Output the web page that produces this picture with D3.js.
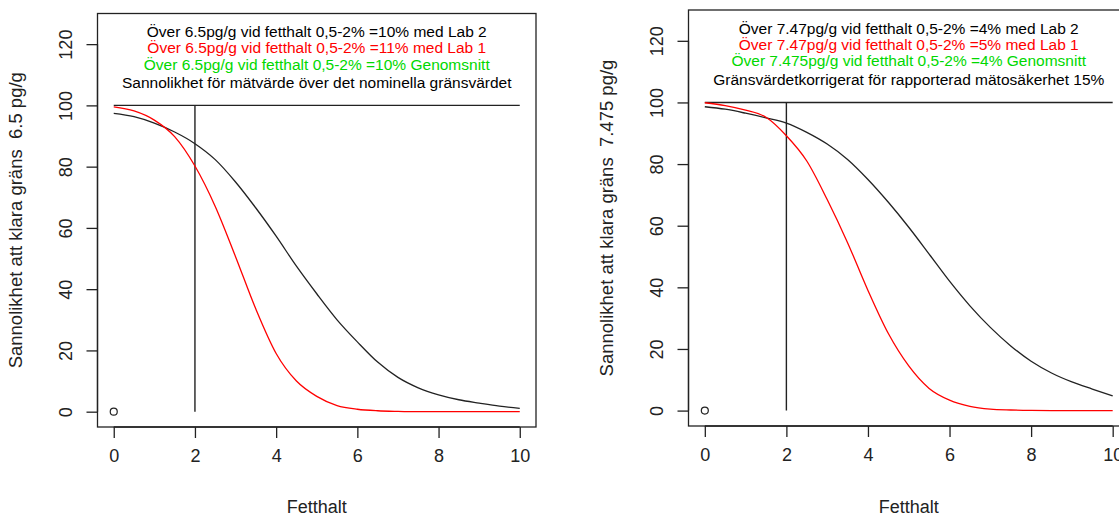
<!DOCTYPE html>
<html>
<head>
<meta charset="utf-8">
<script src="https://cdn.jsdelivr.net/npm/d3@7"></script>
<style>
  body { margin: 0; background: #fff; overflow: hidden; }
  svg { display: block; font-family: "Liberation Sans", Arial, sans-serif; }
</style>
</head>
<body>
<script>
// x grid shared by all curves (Fetthalt)
const xs = [0, 0.5, 1, 1.5, 2, 2.5, 3, 3.5, 4, 4.5, 5, 5.5, 6, 6.5, 7, 7.5, 8, 8.5, 9, 9.5, 10];

// left panel (6.5 pg/g)
const leftBlack = [97.4, 96.3, 94.2, 91.3, 87.5, 82.3, 75.0, 66.5, 57.3, 47.5, 38.5, 30.0, 22.8, 16.2, 11.2, 7.8, 5.5, 3.9, 2.8, 1.8, 1.1];
const leftRed = [99.5, 98.2, 95.2, 89.8, 80.2, 67.0, 50.6, 33.5, 19.0, 10.0, 5.0, 2.0, 0.8, 0.3, 0.1, 0, 0, 0, 0, 0, 0];

// right panel (7.475 pg/g)
const rightBlack = [98.6, 97.8, 96.5, 95.0, 93.3, 90.3, 86.5, 81.5, 75.0, 67.6, 59.5, 50.8, 42.0, 34.0, 27.0, 21.0, 16.0, 12.2, 9.3, 7.0, 4.8];
const rightRed = [99.9, 99.0, 97.5, 95.2, 89.2, 81.0, 68.5, 54.5, 39.0, 25.0, 14.5, 7.2, 3.4, 1.4, 0.5, 0.2, 0.05, 0, 0, 0, 0];

const xTicks = [0, 2, 4, 6, 8, 10];
const yTicks = [0, 20, 40, 60, 80, 100, 120];

const leftNotes = [
  { text: "Över 6.5pg/g vid fetthalt 0,5-2% =10% med Lab 2", color: "#000", y: 123.8 },
  { text: "Över 6.5pg/g vid fetthalt 0,5-2% =11% med Lab 1", color: "#ff0000", y: 118.6 },
  { text: "Över 6.5pg/g vid fetthalt 0,5-2% =10% Genomsnitt", color: "#00d800", y: 112.9 },
  { text: "Sannolikhet för mätvärde över det nominella gränsvärdet", color: "#000", y: 106.9 }
];
const rightNotes = [
  { text: "Över 7.47pg/g vid fetthalt 0,5-2% =4% med Lab 2", color: "#000", y: 123.5 },
  { text: "Över 7.47pg/g vid fetthalt 0,5-2% =5% med Lab 1", color: "#ff0000", y: 118.5 },
  { text: "Över 7.475pg/g vid fetthalt 0,5-2% =4% Genomsnitt", color: "#00d800", y: 113.1 },
  { text: "Gränsvärdetkorrigerat för rapporterad mätosäkerhet 15%", color: "#000", y: 107.1 }
];

const width = 1119;
const height = 518;

const svg = d3.select("body").append("svg")
  .attr("width", width)
  .attr("height", height);

function panel(box, black, red, notes, ylab) {
  const g = svg.append("g");

  const x = d3.scaleLinear().domain([-0.4, 10.4]).range([box.x0, box.x1]);
  const y = d3.scaleLinear().domain([-5, 130]).range([box.y1, box.y0]);

  // plot box
  g.append("rect")
    .attr("x", box.x0).attr("y", box.y0)
    .attr("width", box.x1 - box.x0).attr("height", box.y1 - box.y0)
    .attr("fill", "none").attr("stroke", "#222").attr("stroke-width", 1.3);

  // x axis
  const xAxis = g.append("g")
    .attr("transform", `translate(0,${box.y1})`)
    .call(d3.axisBottom(x).tickValues(xTicks).tickSize(11).tickPadding(11).tickFormat(d3.format("d")));
  xAxis.select(".domain").attr("d", `M${x(0)},0H${x(10)}`);

  // y axis, labels parallel to the axis
  const yAxis = g.append("g")
    .attr("transform", `translate(${box.x0},0)`)
    .call(d3.axisLeft(y).tickValues(yTicks).tickSize(11).tickFormat(d3.format("d")));
  yAxis.select(".domain").attr("d", `M0,${y(0)}V${y(120)}`);
  yAxis.selectAll(".tick text")
    .attr("x", null).attr("dy", null)
    .attr("text-anchor", "middle")
    .attr("transform", "translate(-32,0) rotate(-90)")
    .attr("dy", "0.35em");

  [xAxis, yAxis].forEach((a) => {
    a.selectAll("path, line").attr("stroke", "#222").attr("stroke-width", 1.3);
    a.selectAll("text").attr("fill", "#222").style("font-size", "18px")
      .style("font-family", "'Liberation Sans', Arial, sans-serif");
  });

  // axis titles
  g.append("text")
    .attr("x", (box.x0 + box.x1) / 2).attr("y", 508)
    .attr("text-anchor", "middle").attr("dominant-baseline", "middle")
    .attr("fill", "#222").style("font-size", "18px")
    .text("Fetthalt");
  g.append("text")
    .attr("transform", `translate(${box.x0 - 80},${(box.y0 + box.y1) / 2}) rotate(-90)`)
    .attr("text-anchor", "middle").attr("dominant-baseline", "middle")
    .attr("fill", "#222").style("font-size", "18.5px")
    .style("white-space", "pre")
    .text(ylab);

  // reference lines
  g.append("line")
    .attr("x1", x(0)).attr("x2", x(10)).attr("y1", y(100)).attr("y2", y(100))
    .attr("stroke", "#222").attr("stroke-width", 1.4);
  g.append("line")
    .attr("x1", x(2)).attr("x2", x(2)).attr("y1", y(0)).attr("y2", y(100))
    .attr("stroke", "#222").attr("stroke-width", 1.4);

  // point at origin
  g.append("circle")
    .attr("cx", x(0)).attr("cy", y(0)).attr("r", 3.5)
    .attr("fill", "none").attr("stroke", "#222").attr("stroke-width", 1.2);

  const line = d3.line()
    .x((d, i) => x(xs[i]))
    .y((d) => y(d))
    .curve(d3.curveMonotoneX);

  g.append("path").datum(black)
    .attr("d", line).attr("fill", "none")
    .attr("stroke", "#222").attr("stroke-width", 1.3);
  g.append("path").datum(red)
    .attr("d", line).attr("fill", "none")
    .attr("stroke", "#ff0000").attr("stroke-width", 1.3);

  // notes inside the plot
  g.selectAll("text.note").data(notes).enter()
    .append("text")
    .attr("class", "note")
    .attr("x", (box.x0 + box.x1) / 2)
    .attr("y", (d) => y(d.y))
    .attr("text-anchor", "middle").attr("dominant-baseline", "middle")
    .attr("fill", (d) => d.color)
    .style("font-size", "15.5px")
    .text((d) => d.text);
}

panel({ x0: 97.5, x1: 536, y0: 13.5, y1: 427 }, leftBlack, leftRed, leftNotes,
  "Sannolikhet att klara gräns  6.5 pg/g");
panel({ x0: 688.5, x1: 1129, y0: 10, y1: 426 }, rightBlack, rightRed, rightNotes,
  "Sannolikhet att klara gräns  7.475 pg/g");
</script>
</body>
</html>
